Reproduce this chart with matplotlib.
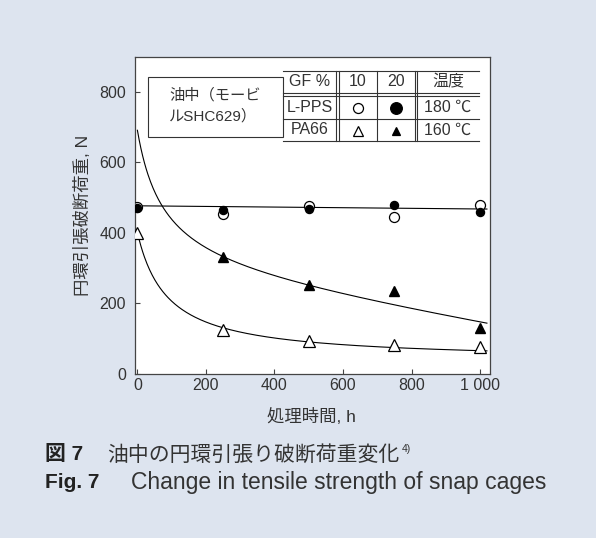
import numpy as np
import matplotlib
matplotlib.use('Agg')
from matplotlib import pyplot as plt
from matplotlib.lines import Line2D
from matplotlib.patches import Rectangle

plt.rcParams['font.family'] = ['Liberation Sans', 'Noto Sans CJK JP', 'DejaVu Sans']

# Measured ring tensile breaking load (N) vs. treatment time (h)
hours = [0, 250, 500, 750, 1000]
pps_gf10 = [474, 454, 477, 444, 479]     # L-PPS, GF 10 %  (open circles)
pps_gf20 = [470, 465, 467, 478, 460]     # L-PPS, GF 20 %  (filled circles)
pa66_gf10 = [400, 125, 95, 82, 76]       # PA66, GF 10 %   (open triangles)
pa66_hours_gf20 = [250, 500, 750, 1000]
pa66_gf20 = [333, 252, 236, 131]         # PA66, GF 20 %   (filled triangles)

# Trend-line coefficients
pps_trend = (477, -0.009)                # y = a + b*t
pa66_gf10_trend = (37, 31700, 87)        # y = a + k/(t+c)
pa66_gf20_trend = (277, -0.158, 31070, 75)  # y = a + b*t + k/(t+c)

x_ticks = [0, 200, 400, 600, 800, 1000]
x_ticklabels = ['0', '200', '400', '600', '800', '1 000']
y_ticks = [0, 200, 400, 600, 800]

bg = '#dde4ef'
ink = '#333333'
W, H = 596, 538

fig = plt.figure(figsize=(W / 100, H / 100), dpi=100, facecolor=bg)
ax = fig.add_axes([135 / W, 1 - 374 / H, 355 / W, 317 / H])
ax.set_facecolor('white')

t = np.linspace(0, 1020, 400)
a, b = pps_trend
ax.plot(t, a + b * t, color='black', lw=0.8, zorder=2)
a, k, c = pa66_gf10_trend
ax.plot(t, a + k / (t + c), color='black', lw=0.8, zorder=2)
a, b, k, c = pa66_gf20_trend
ax.plot(t, a + b * t + k / (t + c), color='black', lw=0.8, zorder=2)

ax.plot(hours, pps_gf10, 'o', ms=7.2, mfc='white', mec='black', mew=0.9, ls='none', zorder=3)
ax.plot(hours, pps_gf20, 'o', ms=5.8, mfc='black', mec='black', ls='none', zorder=4)
ax.plot(hours, pa66_gf10, '^', ms=8, mfc='white', mec='black', mew=0.9, ls='none', zorder=3)
ax.plot(pa66_hours_gf20, pa66_gf20, '^', ms=7.5, mfc='black', mec='black', ls='none', zorder=4)

ax.set_xlim(-7, 1029)
ax.set_ylim(0, 899)
ax.set_xticks(x_ticks)
ax.set_xticklabels(x_ticklabels)
ax.set_yticks(y_ticks)
ax.tick_params(axis='both', direction='in', length=3.5, width=0.8, color='#444444',
               labelsize=11.5, labelcolor=ink)
ax.tick_params(axis='x', pad=3)
ax.tick_params(axis='y', pad=6.5)
for s in ax.spines.values():
    s.set_color('#444444')
    s.set_linewidth(0.9)

fig.text(311 / W, 1 - 416 / H, '処理時間, h', ha='center', va='center',
         fontsize=12.5, color=ink)
fig.text(83 / W, 1 - 215 / H, '円環引張破断荷重, N', ha='center', va='center',
         rotation=90, fontsize=12.5, color=ink)


# legend table drawn in pixel positions
def fx(x):
    return x / W


def fy(y):
    return 1 - y / H


def hline(y, x0, x1):
    fig.add_artist(Line2D([fx(x0), fx(x1)], [fy(y), fy(y)], color=ink, lw=0.8))


def vline(x, y0, y1):
    fig.add_artist(Line2D([fx(x), fx(x)], [fy(y0), fy(y1)], color=ink, lw=0.8))


fig.add_artist(Rectangle((fx(148), fy(137)), fx(283) - fx(148), fy(77) - fy(137),
                         transform=fig.transFigure, fill=False, ec=ink, lw=0.8))
fig.text(fx(169), fy(95), '油中（モービ', ha='left', va='center', fontsize=11, color=ink)
fig.text(fx(169), fy(116), 'ルSHC629）', ha='left', va='center', fontsize=11, color=ink)

for y in [71, 93, 96, 119, 141]:
    hline(y, 283, 479)
for x in [336.3, 339.3, 377, 414.7, 417.3]:
    vline(x, 71, 141)

col_x = [310, 358, 396, 448]
row_y = [82, 107.5, 130]
header = ['GF %', '10', '20', '温度']
for x, txt in zip(col_x, header):
    fig.text(fx(x), fy(row_y[0]), txt, ha='center', va='center', fontsize=11.5, color=ink)
fig.text(fx(col_x[0]), fy(row_y[1]), 'L-PPS', ha='center', va='center', fontsize=11.5, color=ink)
fig.text(fx(col_x[0]), fy(row_y[2]), 'PA66', ha='center', va='center', fontsize=11.5, color=ink)
fig.text(fx(col_x[3]), fy(row_y[1]), '180 ℃', ha='center', va='center', fontsize=11.5, color=ink)
fig.text(fx(col_x[3]), fy(row_y[2]), '160 ℃', ha='center', va='center', fontsize=11.5, color=ink)

table_marks = [
    (col_x[1], row_y[1], 'o', 7.2, 'white'),
    (col_x[2], row_y[1], 'o', 8.4, 'black'),
    (col_x[1], row_y[2] + 1, '^', 7.2, 'white'),
    (col_x[2], row_y[2] + 1, '^', 6, 'black'),
]
for x, y, m, size, fc in table_marks:
    fig.add_artist(Line2D([fx(x)], [fy(y)], marker=m, ms=size, mfc=fc, mec='black',
                          mew=0.9, ls='none'))

# caption
fig.text(fx(45), fy(455), '図 7', ha='left', va='center', fontsize=15,
         fontweight='bold', color='#222222')
jp = fig.text(fx(107), fy(455), '油中の円環引張り破断荷重変化', ha='left', va='center',
              fontsize=15, color=ink, family='Noto Sans CJK JP')
fig.text(fx(45), fy(482), 'Fig. 7', ha='left', va='center', fontsize=15,
         fontweight='bold', color='#222222')
fig.text(fx(131), fy(482), 'Change in tensile strength of snap cages', ha='left',
         va='center', fontsize=16.5, color=ink)

# reference mark right after the Japanese caption
fig.canvas.draw()
x_end = jp.get_window_extent().x1
fig.text((x_end + 2) / W, fy(449), '4)', ha='left', va='center', fontsize=7.5, color=ink)

fig.savefig('out.png', dpi=100, facecolor=bg)
